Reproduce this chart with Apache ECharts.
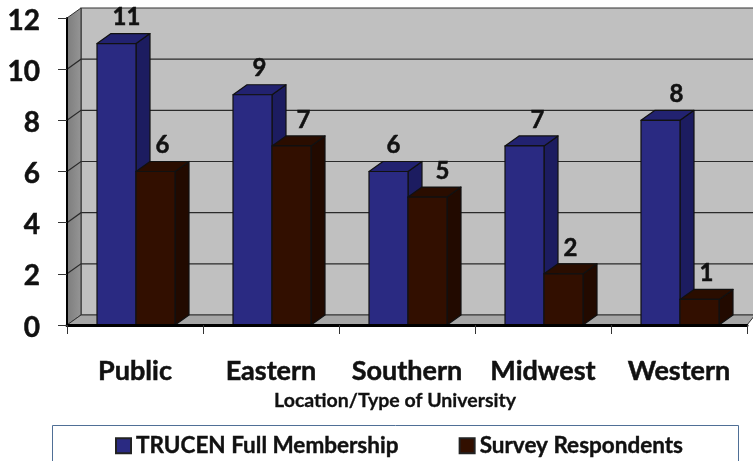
<!DOCTYPE html>
<html>
<head>
<meta charset="utf-8">
<style>html,body{margin:0;padding:0;background:#fff;overflow:hidden}#c{width:753px;height:461px}</style>
<script src="https://cdn.jsdelivr.net/npm/echarts@6/dist/echarts.min.js"></script>
</head>
<body>
<div id="c"></div>
<script>
const categories = ['Public', 'Eastern', 'Southern', 'Midwest', 'Western'];
const fullMembership = [11, 9, 6, 7, 8];
const surveyRespondents = [6, 7, 5, 2, 1];
const yTicks = [0, 2, 4, 6, 8, 10, 12];
// hand-placed value labels in the reference: horizontal nudge per label
const fullLabelNudge = [2, -1, -3, 5, 8];
const surveyLabelNudge = [-1, 4, 7, -1, -1];

const FONT = 'Lato';
const DX = 14, DY = -10, BAR = 39, LINE = '#111';
const HEAVY = {textBorderColor:'#111', textBorderWidth:0.5};

function bgItem(params, api) {
  const g = params.coordSys;
  const x0 = g.x, x1 = g.x + g.width + 8, yb = g.y + g.height;
  const kids = [
    {type:'polygon', shape:{points:[[x0+DX,g.y+DY],[x1,g.y+DY],[x1,yb+DY],[x0+DX,yb+DY]]}, style:{fill:'#c0c0c0',stroke:'#333',lineWidth:1.2}},
    {type:'polygon', shape:{points:[[x0,g.y],[x0+DX,g.y+DY],[x0+DX,yb+DY],[x0,yb]]},
      style:{fill:{type:'linear',x:0,y:0,x2:1,y2:0,colorStops:[{offset:0,color:'#7c7c7c'},{offset:1,color:'#969696'}]},stroke:'#333',lineWidth:1}},
    {type:'polygon', shape:{points:[[x0,yb],[x0+DX,yb+DY],[x1,yb+DY],[x1-8,yb]]}, style:{fill:'#a6a6a6',stroke:'#333',lineWidth:1}}
  ];
  yTicks.forEach(v => {
    if (v === 0 || v === 12) return;
    const y = api.coord([0, v])[1];
    kids.push({type:'polyline', shape:{points:[[x0,y],[x0+DX,y+DY],[x1,y+DY]]}, style:{fill:'none',stroke:'#2a2a2a',lineWidth:1.2}});
  });
  return {type:'group', children:kids};
}

function barItem(left, nudge, front, side, top) {
  return function (params, api) {
    const i = api.value(0), v = api.value(1);
    const p = api.coord([i, v]), b = api.coord([i, 0]);
    const x = p[0] + 1 + (left ? -BAR : 0), y = p[1], r = x + BAR, bt = b[1];
    const s = {stroke:LINE, lineWidth:1.2, lineJoin:'round'};
    return {type:'group', children:[
      {type:'polygon', shape:{points:[[r,y],[r+DX,y+DY],[r+DX,bt+DY],[r,bt]]}, style:Object.assign({fill:side},s)},
      {type:'polygon', shape:{points:[[x,y],[x+DX,y+DY],[r+DX,y+DY],[r,y]]}, style:Object.assign({fill:top},s)},
      {type:'rect', shape:{x:x,y:y,width:BAR,height:bt-y}, style:Object.assign({fill:front},s)},
      {type:'text', z2:50, style:{text:String(v), x:x+BAR/2+8+nudge[i], y:y-26, align:'center', verticalAlign:'middle',
        font:'bold 24px '+FONT, fill:'#111', stroke:'#111', lineWidth:0.5}}
    ]};
  };
}

const chart = echarts.init(document.getElementById('c'), null, {renderer:'canvas'});
chart.setOption({
  animation:false,
  backgroundColor:'#fff',
  grid:{left:67, right:6, top:18, bottom:136},
  xAxis:{type:'category', data:categories, z:5,
    axisLine:{lineStyle:{color:'#000',width:3}},
    axisTick:{show:true,alignWithLabel:false,length:9,lineStyle:{color:'#333',width:1}},
    axisLabel:Object.assign({interval:0,hideOverlap:false,margin:33,fontFamily:FONT,fontWeight:'bold',fontSize:27,color:'#111'},HEAVY),
    name:'Location/Type of University', nameLocation:'middle', nameGap:63,
    nameTextStyle:Object.assign({fontFamily:FONT,fontWeight:'bold',fontSize:19.5,color:'#111',padding:[0,0,0,-24]},{textBorderColor:'#111',textBorderWidth:0.3})
  },
  yAxis:{type:'value', min:0, max:12, interval:2, z:5,
    axisLine:{show:true,lineStyle:{color:'#000',width:2}},
    axisTick:{show:true,length:9,lineStyle:{color:'#333',width:1}},
    axisLabel:{margin:27, formatter:'{t|{value}}',
      rich:{t:Object.assign({fontFamily:FONT,fontWeight:'bold',fontSize:28,color:'#111',padding:[5,0,0,0]},HEAVY)}},
    splitLine:{show:false}
  },
  legend:{show:true, left:110, top:429, itemWidth:15, itemHeight:15, itemGap:60, icon:'rect',
    data:['TRUCEN Full Membership','Survey Respondents'],
    textStyle:Object.assign({fontFamily:FONT,fontWeight:'bold',fontSize:22.5,color:'#111'},{textBorderColor:'#111',textBorderWidth:0.4})},
  graphic:[{type:'rect',z:-1,shape:{x:52.5,y:425.5,width:686,height:60},style:{fill:'none',stroke:'#4f6f96',lineWidth:1}}],
  series:[
    {type:'custom', name:'bg', silent:true, z:1, renderItem:bgItem, data:[[0,0]], encode:{x:0,y:1}, clip:false},
    {type:'custom', name:'TRUCEN Full Membership', z:2, renderItem:barItem(true,fullLabelNudge,'#2a2a82','#1c1c60','#222270'),
      itemStyle:{color:'#2a2a82',borderColor:'#222',borderWidth:1},
      data:fullMembership.map((v,i)=>[i,v]), encode:{x:0,y:1}, clip:false},
    {type:'custom', name:'Survey Respondents', z:3, renderItem:barItem(false,surveyLabelNudge,'#320f00','#220a00','#2a0d00'),
      itemStyle:{color:'#320f00',borderColor:'#222',borderWidth:1},
      data:surveyRespondents.map((v,i)=>[i,v]), encode:{x:0,y:1}, clip:false}
  ]
});
</script>
</body>
</html>
